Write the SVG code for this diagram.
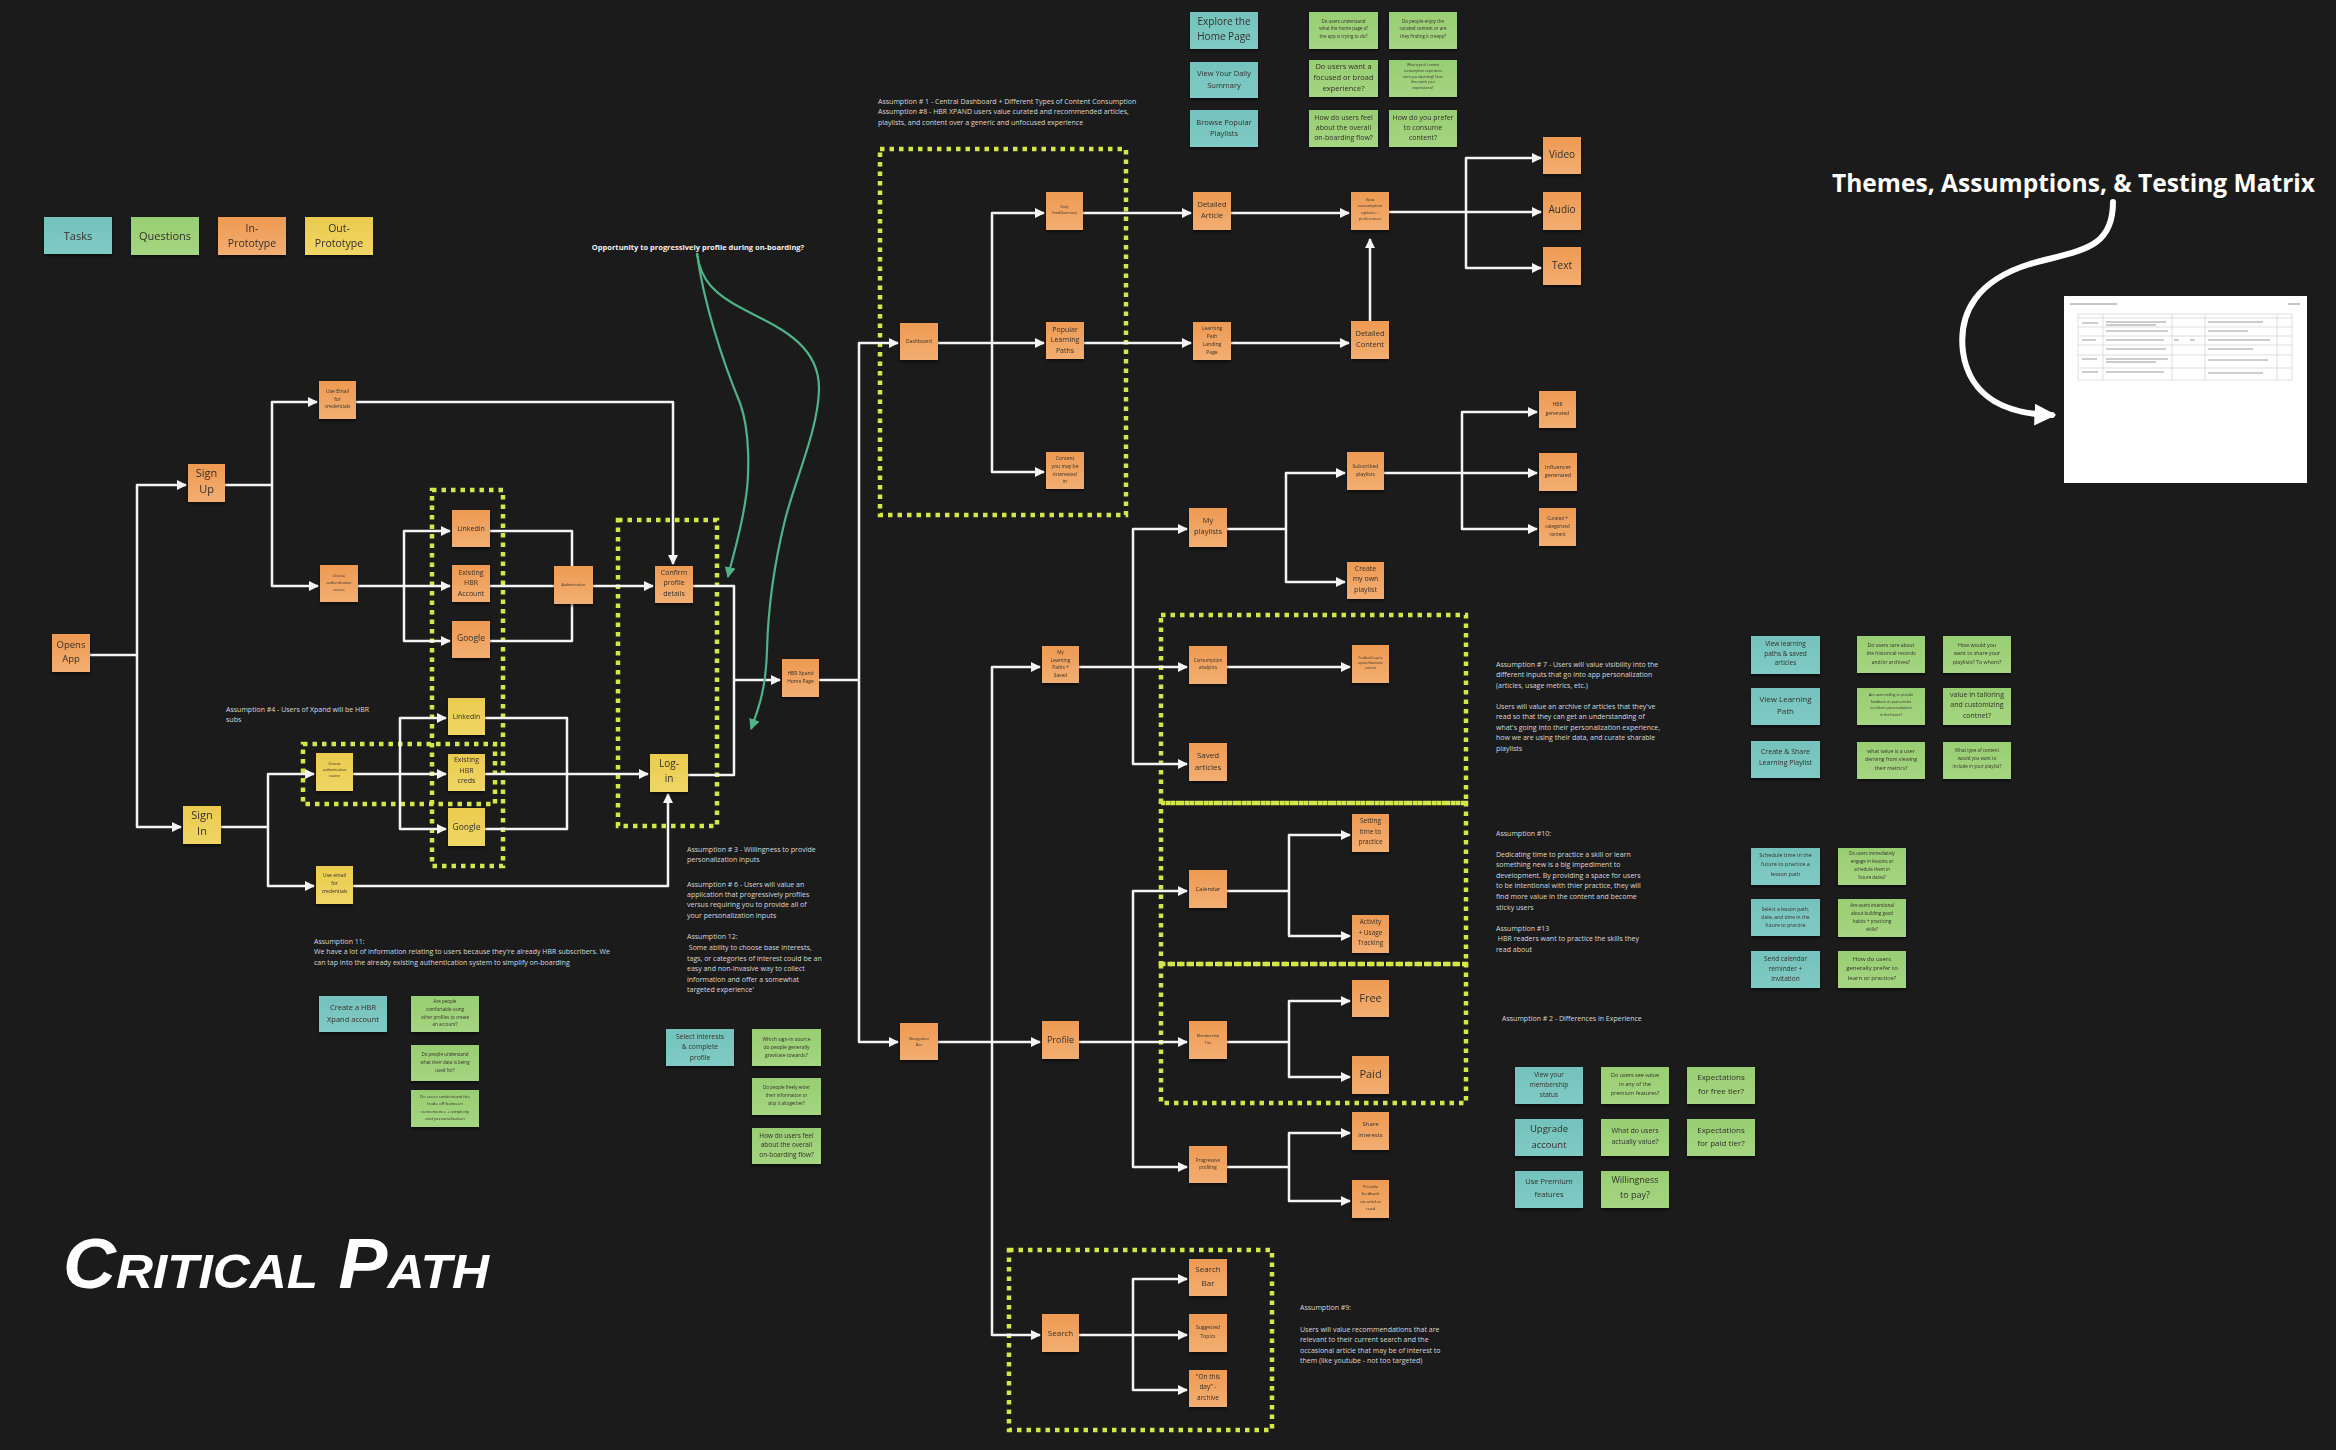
<svg xmlns="http://www.w3.org/2000/svg" width="2336" height="1450" viewBox="0 0 2336 1450">
<defs>
<linearGradient id="gO" x1="0" y1="0" x2="0" y2="1"><stop offset="0" stop-color="#EE9A52"/><stop offset="1" stop-color="#F2AE72"/></linearGradient>
<linearGradient id="gY" x1="0" y1="0" x2="0" y2="1"><stop offset="0" stop-color="#EACB4D"/><stop offset="1" stop-color="#EFD665"/></linearGradient>
<linearGradient id="gT" x1="0" y1="0" x2="0" y2="1"><stop offset="0" stop-color="#74C2BD"/><stop offset="1" stop-color="#80CAC5"/></linearGradient>
<linearGradient id="gG" x1="0" y1="0" x2="0" y2="1"><stop offset="0" stop-color="#98CE72"/><stop offset="1" stop-color="#A5D581"/></linearGradient>
<filter id="sh" x="-20%" y="-20%" width="140%" height="150%"><feDropShadow dx="0" dy="2" stdDeviation="1.5" flood-color="#000" flood-opacity="0.55"/></filter>
<marker id="ah" viewBox="0 0 10 10" refX="9" refY="5" markerWidth="10" markerHeight="10" markerUnits="userSpaceOnUse" orient="auto"><path d="M0,0 L10,5 L0,10 z" fill="#f4f4f4"/></marker>
<marker id="ahg" viewBox="0 0 10 10" refX="9" refY="5" markerWidth="11" markerHeight="11" markerUnits="userSpaceOnUse" orient="auto"><path d="M0,0 L10,5 L0,10 z" fill="#4FB387"/></marker>
<marker id="ahb" viewBox="0 0 10 10" refX="8" refY="5" markerWidth="22" markerHeight="22" markerUnits="userSpaceOnUse" orient="auto"><path d="M0,0 L10,5 L0,10 z" fill="#ffffff"/></marker>
<style>
.n{filter:url(#sh)}
.or{fill:url(#gO)} .ye{fill:url(#gY)} .te{fill:url(#gT)} .gr{fill:url(#gG)}
text.l{font-family:'Open Sans','Liberation Sans',sans-serif;fill:#35302a;text-anchor:middle}
.c{fill:none;stroke:#f4f4f4;stroke-width:2.5;stroke-linejoin:round}
.a{marker-end:url(#ah)}
.g{fill:none;stroke:#4FB387;stroke-width:2.2;marker-end:url(#ahg)}
.db{fill:none;stroke:#D3E74B;stroke-width:4.5;stroke-dasharray:4.5 5}
.an{font-family:'Open Sans','Liberation Sans',sans-serif;font-size:7px;fill:#d9d9d9}
.tl{stroke:#c9c9c9;stroke-width:0.6}
.tx{stroke:#8a8a8a;stroke-width:1}
</style>
</defs>
<rect x="0" y="0" width="2336" height="1450" fill="#1b1b1b"/>

<!-- dotted grouping boxes -->
<g id="groups">
<rect class="db" x="432" y="490" width="71" height="376"/>
<rect class="db" x="618" y="520" width="99" height="306"/>
<rect class="db" x="303" y="744" width="192" height="60"/>
<rect class="db" x="880" y="149" width="246" height="366"/>
<rect class="db" x="1161" y="615" width="305" height="188"/>
<rect class="db" x="1161" y="803" width="305" height="161"/>
<rect class="db" x="1161" y="964" width="305" height="139"/>
<rect class="db" x="1009" y="1250" width="263" height="180"/>
</g>

<!-- connectors -->
<g id="connectors">
<path class="c" d="M90,655 H137"/>
<path class="c a" d="M137,655 V485 H186"/>
<path class="c a" d="M137,655 V827 H181"/>
<path class="c" d="M225,485 H272"/>
<path class="c a" d="M272,485 V402 H317"/>
<path class="c a" d="M272,485 V586 H318"/>
<path class="c a" d="M356,402 H673 V564"/>
<path class="c a" d="M358,586 H450"/>
<path class="c a" d="M404,586 V531 H450"/>
<path class="c a" d="M404,586 V641 H450"/>
<path class="c" d="M490,531 H572 V566"/>
<path class="c" d="M490,641 H572 V604"/>
<path class="c" d="M490,586 H554"/>
<path class="c a" d="M593,586 H653"/>
<path class="c" d="M693,586 H734 V775 H688"/>
<path class="c a" d="M734,680 H780"/>
<path class="c" d="M221,827 H268"/>
<path class="c a" d="M268,827 V774 H314"/>
<path class="c a" d="M268,827 V886 H314"/>
<path class="c a" d="M353,774 H446"/>
<path class="c a" d="M400,774 V718 H446"/>
<path class="c a" d="M400,774 V829 H446"/>
<path class="c" d="M485,718 H567 V829 H485"/>
<path class="c a" d="M485,774 H648"/>
<path class="c a" d="M353,886 H668 V794"/>
<path class="c" d="M819,680 H859"/>
<path class="c a" d="M859,680 V343 H898"/>
<path class="c a" d="M859,680 V1042 H898"/>
<path class="c" d="M938,343 H992"/>
<path class="c a" d="M992,343 V213 H1044"/>
<path class="c a" d="M992,343 H1044"/>
<path class="c a" d="M992,343 V472 H1044"/>
<path class="c a" d="M1083,213 H1191"/>
<path class="c a" d="M1084,343 H1191"/>
<path class="c a" d="M1231,213 H1349"/>
<path class="c a" d="M1231,343 H1349"/>
<path class="c a" d="M1370,321 V239"/>
<path class="c" d="M1389,212 H1466"/>
<path class="c a" d="M1466,212 V158 H1541"/>
<path class="c a" d="M1466,212 H1541"/>
<path class="c a" d="M1466,212 V268 H1541"/>
<path class="c" d="M938,1042 H992"/>
<path class="c a" d="M992,1042 V667 H1040"/>
<path class="c a" d="M992,1042 H1040"/>
<path class="c a" d="M992,1042 V1335 H1040"/>
<path class="c" d="M1079,667 H1133"/>
<path class="c a" d="M1133,667 V529 H1187"/>
<path class="c a" d="M1133,667 H1187"/>
<path class="c a" d="M1133,667 V764 H1187"/>
<path class="c" d="M1227,529 H1286"/>
<path class="c a" d="M1286,529 V473 H1345"/>
<path class="c a" d="M1286,529 V582 H1345"/>
<path class="c" d="M1384,473 H1462"/>
<path class="c a" d="M1462,473 V412 H1537"/>
<path class="c a" d="M1462,473 H1537"/>
<path class="c a" d="M1462,473 V529 H1537"/>
<path class="c a" d="M1227,667 H1350"/>
<path class="c" d="M1079,1042 H1133"/>
<path class="c a" d="M1133,1042 V891 H1187"/>
<path class="c a" d="M1133,1042 H1187"/>
<path class="c a" d="M1133,1042 V1167 H1187"/>
<path class="c" d="M1227,891 H1289"/>
<path class="c a" d="M1289,891 V835 H1350"/>
<path class="c a" d="M1289,891 V936 H1350"/>
<path class="c" d="M1227,1042 H1289"/>
<path class="c a" d="M1289,1042 V1001 H1350"/>
<path class="c a" d="M1289,1042 V1077 H1350"/>
<path class="c" d="M1227,1167 H1289"/>
<path class="c a" d="M1289,1167 V1133 H1350"/>
<path class="c a" d="M1289,1167 V1201 H1350"/>
<path class="c" d="M1079,1335 H1133"/>
<path class="c a" d="M1133,1335 V1279 H1187"/>
<path class="c a" d="M1133,1335 H1187"/>
<path class="c a" d="M1133,1335 V1390 H1187"/>
<path class="g" d="M697,253 C703,300 722,360 740,403 C750,430 750,475 745,503 C740,535 733,555 728,577"/>
<path class="g" d="M697,253 C700,280 715,295 745,310 C780,328 820,345 819,390 C818,430 795,480 785,520 C774,565 768,610 767,650 C766,690 758,710 751,729"/>
<path d="M2113,202 C2113,250 2080,250 2030,264 C1978,280 1958,312 1963,352 C1970,400 2010,414 2052,415" fill="none" stroke="#ffffff" stroke-width="6" stroke-linecap="round" marker-end="url(#ahb)"/>
</g>

<!-- legend -->
<g id="legend-tasks" class="n"><rect class="te" x="44" y="217" width="68" height="37"/><text class="l" x="78" y="239.5" font-size="11">Tasks</text></g>
<g id="legend-questions" class="n"><rect class="gr" x="131" y="217" width="68" height="38"/><text class="l" x="165" y="240" font-size="11">Questions</text></g>
<g id="legend-in" class="n"><rect class="or" x="218" y="217" width="68" height="38"/><text class="l" font-size="10.5"><tspan x="252" y="231.5">In-</tspan><tspan x="252" y="246.5">Prototype</tspan></text></g>
<g id="legend-out" class="n"><rect class="ye" x="305" y="217" width="68" height="38"/><text class="l" font-size="10.5"><tspan x="339" y="231.5">Out-</tspan><tspan x="339" y="246.5">Prototype</tspan></text></g>

<!-- onboarding nodes -->
<g id="opens-app" class="n"><rect class="or" x="52" y="634" width="38" height="38"/><text class="l" font-size="9.5"><tspan x="71" y="647.5">Opens</tspan><tspan x="71" y="662">App</tspan></text></g>
<g id="sign-up" class="n"><rect class="or" x="188" y="464" width="37" height="38"/><text class="l" font-size="11"><tspan x="206.5" y="477">Sign</tspan><tspan x="206.5" y="493">Up</tspan></text></g>
<g id="sign-in" class="n"><rect class="ye" x="183" y="806" width="38" height="38"/><text class="l" font-size="11"><tspan x="202" y="819">Sign</tspan><tspan x="202" y="835">In</tspan></text></g>
<g id="su-email" class="n"><rect class="or" x="319" y="381" width="37" height="38"/><text class="l" font-size="5"><tspan x="337.5" y="393">Use Email</tspan><tspan x="337.5" y="400.5">for</tspan><tspan x="337.5" y="408">credentials</tspan></text></g>
<g id="su-choose" class="n"><rect class="or" x="320" y="565" width="38" height="37"/><text class="l" font-size="3.7"><tspan x="339" y="577.3">Choose</tspan><tspan x="339" y="584">authentication</tspan><tspan x="339" y="590.6">source</tspan></text></g>
<g id="su-linkedin" class="n"><rect class="or" x="452" y="510" width="38" height="37"/><text class="l" x="471" y="531" font-size="7">Linkedin</text></g>
<g id="su-existing" class="n"><rect class="or" x="452" y="565" width="38" height="37"/><text class="l" font-size="7"><tspan x="471" y="574.5">Existing</tspan><tspan x="471" y="585">HBR</tspan><tspan x="471" y="595.5">Account</tspan></text></g>
<g id="su-google" class="n"><rect class="or" x="452" y="621" width="38" height="37"/><text class="l" x="471" y="640.5" font-size="8.5">Google</text></g>
<g id="authentication" class="n"><rect class="or" x="554" y="566" width="39" height="38"/><text class="l" x="573.5" y="585.5" font-size="3.5">Authentication</text></g>
<g id="confirm-profile" class="n"><rect class="or" x="655" y="566" width="38" height="37"/><text class="l" font-size="7"><tspan x="674" y="574.5">Confirm</tspan><tspan x="674" y="585">profile</tspan><tspan x="674" y="595.5">details</tspan></text></g>
<g id="si-choose" class="n"><rect class="ye" x="316" y="753" width="37" height="38"/><text class="l" font-size="3.5"><tspan x="334.5" y="765.3">Choose</tspan><tspan x="334.5" y="771.3">authentication</tspan><tspan x="334.5" y="777.3">source</tspan></text></g>
<g id="si-email" class="n"><rect class="ye" x="316" y="866" width="37" height="38"/><text class="l" font-size="5"><tspan x="334.5" y="877">Use email</tspan><tspan x="334.5" y="885">for</tspan><tspan x="334.5" y="893">credentials</tspan></text></g>
<g id="si-linkedin" class="n"><rect class="ye" x="448" y="698" width="37" height="37"/><text class="l" x="466.5" y="719" font-size="7">Linkedin</text></g>
<g id="si-existing" class="n"><rect class="ye" x="448" y="754" width="37" height="37"/><text class="l" font-size="7"><tspan x="466.5" y="762">Existing</tspan><tspan x="466.5" y="772.5">HBR</tspan><tspan x="466.5" y="783">creds</tspan></text></g>
<g id="si-google" class="n"><rect class="ye" x="448" y="808" width="37" height="38"/><text class="l" x="466.5" y="830" font-size="8.5">Google</text></g>
<g id="log-in" class="n"><rect class="ye" x="650" y="754" width="38" height="38"/><text class="l" font-size="10"><tspan x="669" y="766.5">Log-</tspan><tspan x="669" y="782">in</tspan></text></g>
<g id="home-page" class="n"><rect class="or" x="782" y="659" width="37" height="38"/><text class="l" font-size="5"><tspan x="800.5" y="674.5">HBR Xpand</tspan><tspan x="800.5" y="683">Home Page</tspan></text></g>

<!-- dashboard branch -->
<g id="dashboard" class="n"><rect class="or" x="900" y="323" width="38" height="37"/><text class="l" x="919" y="343" font-size="5">Dashboard</text></g>
<g id="navigation-bar" class="n"><rect class="or" x="900" y="1023" width="38" height="37"/><text class="l" font-size="4"><tspan x="919" y="1040">Navigation</tspan><tspan x="919" y="1045.5">Bar</tspan></text></g>
<g id="daily-feed" class="n"><rect class="or" x="1046" y="192" width="37" height="38"/><text class="l" font-size="3.5"><tspan x="1064.5" y="208">Daily</tspan><tspan x="1064.5" y="213.5">Feed/Summary</tspan></text></g>
<g id="popular-learning-paths" class="n"><rect class="or" x="1046" y="322" width="38" height="37"/><text class="l" font-size="7"><tspan x="1065" y="331.5">Popular</tspan><tspan x="1065" y="342">Learning</tspan><tspan x="1065" y="352.5">Paths</tspan></text></g>
<g id="content-interest" class="n"><rect class="or" x="1046" y="452" width="38" height="37"/><text class="l" font-size="5"><tspan x="1065" y="460">Content</tspan><tspan x="1065" y="468">you may be</tspan><tspan x="1065" y="475.5">interested</tspan><tspan x="1065" y="483">in</tspan></text></g>
<g id="detailed-article" class="n"><rect class="or" x="1193" y="192" width="38" height="38"/><text class="l" font-size="7.5"><tspan x="1212" y="206.6">Detailed</tspan><tspan x="1212" y="217.6">Article</tspan></text></g>
<g id="lp-landing" class="n"><rect class="or" x="1193" y="322" width="38" height="38"/><text class="l" font-size="5"><tspan x="1212" y="330">Learning</tspan><tspan x="1212" y="338">Path</tspan><tspan x="1212" y="346">Landing</tspan><tspan x="1212" y="354">Page</tspan></text></g>
<g id="view-consumption" class="n"><rect class="or" x="1351" y="192" width="38" height="38"/><text class="l" font-size="4"><tspan x="1370" y="200.5">View</tspan><tspan x="1370" y="207">consumption</tspan><tspan x="1370" y="213.5">options +</tspan><tspan x="1370" y="220">preferences</tspan></text></g>
<g id="detailed-content" class="n"><rect class="or" x="1351" y="321" width="38" height="38"/><text class="l" font-size="7.5"><tspan x="1370" y="335.5">Detailed</tspan><tspan x="1370" y="346.5">Content</tspan></text></g>
<g id="video" class="n"><rect class="or" x="1543" y="137" width="38" height="37"/><text class="l" x="1562" y="157.5" font-size="10">Video</text></g>
<g id="audio" class="n"><rect class="or" x="1543" y="192" width="38" height="38"/><text class="l" x="1562" y="212.5" font-size="10">Audio</text></g>
<g id="text-node" class="n"><rect class="or" x="1543" y="247" width="38" height="38"/><text class="l" x="1562" y="268.5" font-size="10">Text</text></g>

<!-- navigation branch -->
<g id="my-learning-paths" class="n"><rect class="or" x="1042" y="646" width="37" height="37"/><text class="l" font-size="4.8"><tspan x="1060.5" y="654">My</tspan><tspan x="1060.5" y="661.7">Learning</tspan><tspan x="1060.5" y="669.4">Paths +</tspan><tspan x="1060.5" y="677">Saved</tspan></text></g>
<g id="my-playlists" class="n"><rect class="or" x="1189" y="508" width="38" height="39"/><text class="l" font-size="7.5"><tspan x="1208" y="522.5">My</tspan><tspan x="1208" y="533.5">playlists</tspan></text></g>
<g id="subscribed-playlists" class="n"><rect class="or" x="1347" y="452" width="37" height="38"/><text class="l" font-size="5"><tspan x="1365.5" y="468">Subscribed</tspan><tspan x="1365.5" y="476">playlists</tspan></text></g>
<g id="create-playlist" class="n"><rect class="or" x="1347" y="562" width="37" height="37"/><text class="l" font-size="7"><tspan x="1365.5" y="570.5">Create</tspan><tspan x="1365.5" y="581">my own</tspan><tspan x="1365.5" y="591.5">playlist</tspan></text></g>
<g id="hbr-generated" class="n"><rect class="or" x="1539" y="391" width="37" height="37"/><text class="l" font-size="5"><tspan x="1557.5" y="406">HBR</tspan><tspan x="1557.5" y="415">generated</tspan></text></g>
<g id="influencer-generated" class="n"><rect class="or" x="1539" y="453" width="38" height="38"/><text class="l" font-size="5.5"><tspan x="1558" y="469">Influencer</tspan><tspan x="1558" y="477">generated</tspan></text></g>
<g id="curated-content" class="n"><rect class="or" x="1539" y="508" width="37" height="38"/><text class="l" font-size="4.5"><tspan x="1557.5" y="519.5">Curated +</tspan><tspan x="1557.5" y="527.5">categorized</tspan><tspan x="1557.5" y="535.5">content</tspan></text></g>
<g id="consumption-analytics" class="n"><rect class="or" x="1189" y="646" width="38" height="38"/><text class="l" font-size="4.5"><tspan x="1208" y="661.5">Consumption</tspan><tspan x="1208" y="668.5">analytics</tspan></text></g>
<g id="feedback-loop" class="n"><rect class="or" x="1352" y="645" width="37" height="38"/><text class="l" font-size="3"><tspan x="1370.5" y="659">Feedback loop to</tspan><tspan x="1370.5" y="664">upvote/downvote</tspan><tspan x="1370.5" y="669">content</tspan></text></g>
<g id="saved-articles" class="n"><rect class="or" x="1189" y="743" width="38" height="38"/><text class="l" font-size="8"><tspan x="1208" y="757.5">Saved</tspan><tspan x="1208" y="769.5">articles</tspan></text></g>
<g id="calendar" class="n"><rect class="or" x="1189" y="870" width="38" height="38"/><text class="l" x="1208" y="891" font-size="6">Calendar</text></g>
<g id="setting-time" class="n"><rect class="or" x="1352" y="814" width="37" height="38"/><text class="l" font-size="6.5"><tspan x="1370.5" y="823">Setting</tspan><tspan x="1370.5" y="833.5">time to</tspan><tspan x="1370.5" y="844">practice</tspan></text></g>
<g id="activity-tracking" class="n"><rect class="or" x="1352" y="915" width="37" height="38"/><text class="l" font-size="6.5"><tspan x="1370.5" y="924">Activity</tspan><tspan x="1370.5" y="934.5">+ Usage</tspan><tspan x="1370.5" y="945">Tracking</tspan></text></g>
<g id="profile" class="n"><rect class="or" x="1042" y="1021" width="37" height="38"/><text class="l" x="1060.5" y="1043" font-size="9">Profile</text></g>
<g id="membership-tier" class="n"><rect class="or" x="1189" y="1021" width="38" height="38"/><text class="l" font-size="3.8"><tspan x="1208" y="1036.5">Membership</tspan><tspan x="1208" y="1043.5">Tier</tspan></text></g>
<g id="free" class="n"><rect class="or" x="1352" y="980" width="37" height="37"/><text class="l" x="1370.5" y="1002" font-size="11">Free</text></g>
<g id="paid" class="n"><rect class="or" x="1352" y="1056" width="37" height="38"/><text class="l" x="1370.5" y="1078" font-size="11">Paid</text></g>
<g id="progressive-profiling" class="n"><rect class="or" x="1189" y="1146" width="38" height="37"/><text class="l" font-size="4.5"><tspan x="1208" y="1161.5">Progressive</tspan><tspan x="1208" y="1168.5">profiling</tspan></text></g>
<g id="share-interests" class="n"><rect class="or" x="1352" y="1112" width="37" height="38"/><text class="l" font-size="6"><tspan x="1370.5" y="1126">Share</tspan><tspan x="1370.5" y="1137">interests</tspan></text></g>
<g id="provide-feedback" class="n"><rect class="or" x="1352" y="1180" width="37" height="38"/><text class="l" font-size="4.3"><tspan x="1370.5" y="1187.5">Provide</tspan><tspan x="1370.5" y="1195">feedback</tspan><tspan x="1370.5" y="1202.5">on articles</tspan><tspan x="1370.5" y="1210">read</tspan></text></g>
<g id="search" class="n"><rect class="or" x="1042" y="1314" width="37" height="38"/><text class="l" x="1060.5" y="1336" font-size="8">Search</text></g>
<g id="search-bar" class="n"><rect class="or" x="1189" y="1259" width="38" height="37"/><text class="l" font-size="8"><tspan x="1208" y="1272">Search</tspan><tspan x="1208" y="1285.5">Bar</tspan></text></g>
<g id="suggested-topics" class="n"><rect class="or" x="1189" y="1314" width="38" height="38"/><text class="l" font-size="5"><tspan x="1208" y="1329">Suggested</tspan><tspan x="1208" y="1337.5">Topics</tspan></text></g>
<g id="on-this-day" class="n"><rect class="or" x="1189" y="1370" width="38" height="37"/><text class="l" font-size="6.5"><tspan x="1208" y="1378.5">"On this</tspan><tspan x="1208" y="1389">day" -</tspan><tspan x="1208" y="1399.5">archive</tspan></text></g>

<!-- top tasks and questions -->
<g id="t-explore" class="n"><rect class="te" x="1190" y="12" width="68" height="37"/><text class="l" font-size="10"><tspan x="1224" y="24.5">Explore the</tspan><tspan x="1224" y="39.5">Home Page</tspan></text></g>
<g id="t-daily" class="n"><rect class="te" x="1190" y="62" width="68" height="36"/><text class="l" font-size="7.5"><tspan x="1224" y="75.5">View Your Daily</tspan><tspan x="1224" y="87.5">Summary</tspan></text></g>
<g id="t-browse" class="n"><rect class="te" x="1190" y="110" width="68" height="37"/><text class="l" font-size="7.5"><tspan x="1224" y="124.5">Browse Popular</tspan><tspan x="1224" y="135.5">Playlists</tspan></text></g>
<g id="q-homepage" class="n"><rect class="gr" x="1309" y="12" width="69" height="37"/><text class="l" font-size="4.5"><tspan x="1343.5" y="22.5">Do users understand</tspan><tspan x="1343.5" y="30.3">what the home page of</tspan><tspan x="1343.5" y="38.2">the app is trying to do?</tspan></text></g>
<g id="q-creepy" class="n"><rect class="gr" x="1389" y="12" width="68" height="37"/><text class="l" font-size="4.5"><tspan x="1423" y="22.5">Do people enjoy the</tspan><tspan x="1423" y="30.3">curated content or are</tspan><tspan x="1423" y="38.2">they finding it creepy?</tspan></text></g>
<g id="q-focused" class="n"><rect class="gr" x="1309" y="60" width="69" height="37"/><text class="l" font-size="7.5"><tspan x="1343.5" y="68.6">Do users want a</tspan><tspan x="1343.5" y="79.6">focused or broad</tspan><tspan x="1343.5" y="90.6">experience?</tspan></text></g>
<g id="q-expecting" class="n"><rect class="gr" x="1389" y="60" width="68" height="37"/><text class="l" font-size="3.3"><tspan x="1423" y="66">What type of content</tspan><tspan x="1423" y="71.8">consumption experience</tspan><tspan x="1423" y="77.6">were you expecting? Does</tspan><tspan x="1423" y="83.4">this match your</tspan><tspan x="1423" y="89.2">expectations?</tspan></text></g>
<g id="q-onboarding-top" class="n"><rect class="gr" x="1309" y="110" width="69" height="37"/><text class="l" font-size="7"><tspan x="1343.5" y="119.5">How do users feel</tspan><tspan x="1343.5" y="129.5">about the overall</tspan><tspan x="1343.5" y="139.5">on-boarding flow?</tspan></text></g>
<g id="q-prefer" class="n"><rect class="gr" x="1389" y="110" width="68" height="37"/><text class="l" font-size="7"><tspan x="1423" y="119.5">How do you prefer</tspan><tspan x="1423" y="129.5">to consume</tspan><tspan x="1423" y="139.5">content?</tspan></text></g>

<!-- right tasks and questions -->
<g id="t-view-lp-saved" class="n"><rect class="te" x="1751" y="636" width="69" height="38"/><text class="l" font-size="6.5"><tspan x="1785.5" y="645.8">View learning</tspan><tspan x="1785.5" y="655.5">paths &amp; saved</tspan><tspan x="1785.5" y="665.3">articles</tspan></text></g>
<g id="t-view-lp" class="n"><rect class="te" x="1751" y="688" width="69" height="37"/><text class="l" font-size="8"><tspan x="1785.5" y="702">View Learning</tspan><tspan x="1785.5" y="713.5">Path</tspan></text></g>
<g id="t-create-share" class="n"><rect class="te" x="1751" y="741" width="69" height="37"/><text class="l" font-size="7"><tspan x="1785.5" y="753.5">Create &amp; Share</tspan><tspan x="1785.5" y="764.5">Learning Playlist</tspan></text></g>
<g id="q-historical" class="n"><rect class="gr" x="1857" y="636" width="68" height="37"/><text class="l" font-size="5"><tspan x="1891" y="646.5">Do users care about</tspan><tspan x="1891" y="655">the historical records</tspan><tspan x="1891" y="663.5">and/or archives?</tspan></text></g>
<g id="q-share" class="n"><rect class="gr" x="1943" y="636" width="68" height="37"/><text class="l" font-size="5.3"><tspan x="1977" y="646.5">How would you</tspan><tspan x="1977" y="655">want to share your</tspan><tspan x="1977" y="663.5">playlists? To whom?</tspan></text></g>
<g id="q-willing-feedback" class="n"><rect class="gr" x="1857" y="688" width="68" height="37"/><text class="l" font-size="3.5"><tspan x="1891" y="696.3">Are users willing to provide</tspan><tspan x="1891" y="702.8">feedback on past articles</tspan><tspan x="1891" y="709.3">to inform personalization</tspan><tspan x="1891" y="715.8">in the future?</tspan></text></g>
<g id="q-tailoring" class="n"><rect class="gr" x="1943" y="688" width="68" height="37"/><text class="l" font-size="7"><tspan x="1977" y="696.5">value in tailoring</tspan><tspan x="1977" y="707">and customizing</tspan><tspan x="1977" y="717.5">contnet?</tspan></text></g>
<g id="q-metrics" class="n"><rect class="gr" x="1857" y="742" width="68" height="37"/><text class="l" font-size="5.2"><tspan x="1891" y="752.5">what value is a user</tspan><tspan x="1891" y="761">deriving from viewing</tspan><tspan x="1891" y="769.5">their metrics?</tspan></text></g>
<g id="q-playlist-content" class="n"><rect class="gr" x="1943" y="742" width="68" height="37"/><text class="l" font-size="4.5"><tspan x="1977" y="752">What type of content</tspan><tspan x="1977" y="760">would you want to</tspan><tspan x="1977" y="768">include in your playlist?</tspan></text></g>
<g id="t-schedule" class="n"><rect class="te" x="1751" y="848" width="69" height="37"/><text class="l" font-size="5.5"><tspan x="1785.5" y="857.3">Schedule time in the</tspan><tspan x="1785.5" y="866.4">future to practice a</tspan><tspan x="1785.5" y="875.5">lesson path</tspan></text></g>
<g id="t-select-lesson" class="n"><rect class="te" x="1751" y="899" width="69" height="37"/><text class="l" font-size="5"><tspan x="1785.5" y="910.7">Select a lesson path,</tspan><tspan x="1785.5" y="918.7">date, and time in the</tspan><tspan x="1785.5" y="926.7">future to practice</tspan></text></g>
<g id="t-send-calendar" class="n"><rect class="te" x="1751" y="951" width="69" height="37"/><text class="l" font-size="6.5"><tspan x="1785.5" y="960.5">Send calendar</tspan><tspan x="1785.5" y="970.5">reminder +</tspan><tspan x="1785.5" y="981">invitation</tspan></text></g>
<g id="q-immediately" class="n"><rect class="gr" x="1838" y="848" width="68" height="37"/><text class="l" font-size="4.5"><tspan x="1872" y="854.5">Do users immediately</tspan><tspan x="1872" y="862.5">engage in lessons or</tspan><tspan x="1872" y="870.5">schedule them in</tspan><tspan x="1872" y="878.5">future dates?</tspan></text></g>
<g id="q-intentional" class="n"><rect class="gr" x="1838" y="899" width="68" height="38"/><text class="l" font-size="4.5"><tspan x="1872" y="906.5">Are users intentional</tspan><tspan x="1872" y="914.5">about building good</tspan><tspan x="1872" y="922.5">habits + practicing</tspan><tspan x="1872" y="930.5">skills?</tspan></text></g>
<g id="q-learn-practice" class="n"><rect class="gr" x="1838" y="951" width="68" height="37"/><text class="l" font-size="6"><tspan x="1872" y="961">How do users</tspan><tspan x="1872" y="970">generally prefer to</tspan><tspan x="1872" y="979.5">learn or practice?</tspan></text></g>

<!-- membership tasks and questions -->
<g id="t-membership-status" class="n"><rect class="te" x="1515" y="1067" width="68" height="37"/><text class="l" font-size="6.5"><tspan x="1549" y="1076.5">View your</tspan><tspan x="1549" y="1086.5">membership</tspan><tspan x="1549" y="1097">status</tspan></text></g>
<g id="t-upgrade" class="n"><rect class="te" x="1515" y="1119" width="68" height="37"/><text class="l" font-size="9.5"><tspan x="1549" y="1131.5">Upgrade</tspan><tspan x="1549" y="1147.5">account</tspan></text></g>
<g id="t-premium" class="n"><rect class="te" x="1515" y="1171" width="68" height="37"/><text class="l" font-size="7.5"><tspan x="1549" y="1183.5">Use Premium</tspan><tspan x="1549" y="1197">features</tspan></text></g>
<g id="q-premium-value" class="n"><rect class="gr" x="1601" y="1067" width="68" height="37"/><text class="l" font-size="5.5"><tspan x="1635" y="1077">Do users see value</tspan><tspan x="1635" y="1086">in any of the</tspan><tspan x="1635" y="1095">premium features?</tspan></text></g>
<g id="q-actually-value" class="n"><rect class="gr" x="1601" y="1119" width="68" height="37"/><text class="l" font-size="7"><tspan x="1635" y="1132.5">What do users</tspan><tspan x="1635" y="1144">actually value?</tspan></text></g>
<g id="q-willingness" class="n"><rect class="gr" x="1601" y="1171" width="68" height="37"/><text class="l" font-size="9"><tspan x="1635" y="1183">Willingness</tspan><tspan x="1635" y="1198">to pay?</tspan></text></g>
<g id="q-free-tier" class="n"><rect class="gr" x="1687" y="1067" width="68" height="37"/><text class="l" font-size="8"><tspan x="1721" y="1080">Expectations</tspan><tspan x="1721" y="1094">for free tier?</tspan></text></g>
<g id="q-paid-tier" class="n"><rect class="gr" x="1687" y="1119" width="68" height="37"/><text class="l" font-size="8"><tspan x="1721" y="1132.5">Expectations</tspan><tspan x="1721" y="1145.5">for paid tier?</tspan></text></g>

<!-- bottom-left tasks and questions -->
<g id="t-create-account" class="n"><rect class="te" x="319" y="996" width="68" height="36"/><text class="l" font-size="7.5"><tspan x="353" y="1009.5">Create a HBR</tspan><tspan x="353" y="1021.5">Xpand account</tspan></text></g>
<g id="q-comfortable" class="n"><rect class="gr" x="411" y="996" width="68" height="36"/><text class="l" font-size="4.5"><tspan x="445" y="1003">Are people</tspan><tspan x="445" y="1010.8">comfortable using</tspan><tspan x="445" y="1018.6">other profiles to create</tspan><tspan x="445" y="1026.4">an account?</tspan></text></g>
<g id="q-data" class="n"><rect class="gr" x="411" y="1045" width="68" height="36"/><text class="l" font-size="4.5"><tspan x="445" y="1055.5">Do people understand</tspan><tspan x="445" y="1063.5">what their data is being</tspan><tspan x="445" y="1071.5">used for?</tspan></text></g>
<g id="q-tradeoff" class="n"><rect class="gr" x="411" y="1090" width="68" height="37"/><text class="l" font-size="4.3"><tspan x="445" y="1098">Do users understand the</tspan><tspan x="445" y="1105.3">trade off between</tspan><tspan x="445" y="1112.6">convenience + simplicity</tspan><tspan x="445" y="1120">and personalization</tspan></text></g>
<g id="t-select-interests" class="n"><rect class="te" x="666" y="1029" width="68" height="37"/><text class="l" font-size="6.8"><tspan x="700" y="1038.5">Select interests</tspan><tspan x="700" y="1049">&amp; complete</tspan><tspan x="700" y="1059.5">profile</tspan></text></g>
<g id="q-signin-source" class="n"><rect class="gr" x="752" y="1029" width="69" height="37"/><text class="l" font-size="5"><tspan x="786.5" y="1040.7">Which sign-in source</tspan><tspan x="786.5" y="1048.7">do people generally</tspan><tspan x="786.5" y="1056.7">gravitate towards?</tspan></text></g>
<g id="q-freely" class="n"><rect class="gr" x="752" y="1078" width="69" height="37"/><text class="l" font-size="4.5"><tspan x="786.5" y="1088.5">Do people freely enter</tspan><tspan x="786.5" y="1096.5">their information or</tspan><tspan x="786.5" y="1104.5">skip it altogether?</tspan></text></g>
<g id="q-onboarding-low" class="n"><rect class="gr" x="752" y="1128" width="69" height="36"/><text class="l" font-size="6.5"><tspan x="786.5" y="1137.5">How do users feel</tspan><tspan x="786.5" y="1147">about the overall</tspan><tspan x="786.5" y="1156.5">on-boarding flow?</tspan></text></g>

<!-- annotations -->
<g id="annotations">
<text x="698" y="249.5" font-family="'Open Sans','Liberation Sans',sans-serif" font-size="7.5" font-weight="bold" fill="#f2f2f2" text-anchor="middle">Opportunity to progressively profile during on-boarding?</text>
<text class="an"><tspan x="226" y="711.5">Assumption #4 - Users of Xpand will be HBR</tspan><tspan x="226" y="722">subs</tspan></text>
<text class="an"><tspan x="687" y="851.5">Assumption # 3 - Willingness to provide</tspan><tspan x="687" y="861.5">personalization inputs</tspan><tspan x="687" y="886.5">Assumption # 6 - Users will value an</tspan><tspan x="687" y="896.5">application that progressively profiles</tspan><tspan x="687" y="907">versus requiring you to provide all of</tspan><tspan x="687" y="917.5">your personalization inputs</tspan><tspan x="687" y="938.5">Assumption 12:</tspan><tspan x="687" y="949.5"> Some ability to choose base interests,</tspan><tspan x="687" y="960.5">tags, or categories of interest could be an</tspan><tspan x="687" y="970.5">easy and non-invasive way to collect</tspan><tspan x="687" y="981.5">information and offer a somewhat</tspan><tspan x="687" y="991.5">targeted experience'</tspan></text>
<text class="an"><tspan x="314" y="943.5">Assumption 11:</tspan><tspan x="314" y="953.5">We have a lot of information relating to users because they're already HBR subscribers. We</tspan><tspan x="314" y="964.5">can tap into the already existing authentication system to simplify on-boarding</tspan></text>
<text class="an" font-size="7.2"><tspan x="878" y="103.5">Assumption # 1 - Central Dashboard + Different Types of Content Consumption</tspan><tspan x="878" y="113.5">Assumption #8 - HBR XPAND users value curated and recommended articles,</tspan><tspan x="878" y="124.5">playlists, and content over a generic and unfocused experience</tspan></text>
<text class="an"><tspan x="1496" y="666.5">Assumption # 7 - Users will value visibility into the</tspan><tspan x="1496" y="676.5">different inputs that go into app personalization</tspan><tspan x="1496" y="687.5">(articles, usage metrics, etc.)</tspan><tspan x="1496" y="708.5">Users will value an archive of articles that they've</tspan><tspan x="1496" y="718.5">read so that they can get an understanding of</tspan><tspan x="1496" y="729.5">what's going into their personalization experience,</tspan><tspan x="1496" y="739.5">how we are using their data, and curate sharable</tspan><tspan x="1496" y="750.5">playlists</tspan></text>
<text class="an"><tspan x="1496" y="835.5">Assumption #10:</tspan><tspan x="1496" y="856.5">Dedicating time to practice a skill or learn</tspan><tspan x="1496" y="866.5">something new is a big impediment to</tspan><tspan x="1496" y="877.5">development. By providing a space for users</tspan><tspan x="1496" y="887.5">to be intentional with thier practice, they will</tspan><tspan x="1496" y="898.5">find more value in the content and become</tspan><tspan x="1496" y="909.5">sticky users</tspan><tspan x="1496" y="930.5">Assumption #13</tspan><tspan x="1496" y="940.5"> HBR readers want to practice the skills they</tspan><tspan x="1496" y="951.5">read about</tspan></text>
<text class="an" x="1502" y="1020.5">Assumption # 2 - Differences in Experience</text>
<text class="an"><tspan x="1300" y="1309.5">Assumption #9:</tspan><tspan x="1300" y="1331.5">Users will value recommendations that are</tspan><tspan x="1300" y="1341.5">relevant to their current search and the</tspan><tspan x="1300" y="1352.5">occasional article that may be of interest to</tspan><tspan x="1300" y="1362.5">them (like youtube - not too targeted)</tspan></text>
<text x="63" y="1288" font-family="'Liberation Sans',sans-serif" font-weight="bold" font-style="italic" font-variant="small-caps" font-size="70" textLength="426" lengthAdjust="spacingAndGlyphs" fill="#ffffff">Critical Path</text>
<text x="1832" y="192" font-family="'Open Sans','Liberation Sans',sans-serif" font-weight="bold" font-size="25" textLength="483" lengthAdjust="spacingAndGlyphs" fill="#ffffff">Themes, Assumptions, &amp; Testing Matrix</text>
</g>

<!-- testing matrix thumbnail -->
<g id="testing-matrix">
<rect x="2064" y="296" width="243" height="187" fill="#ffffff"/>
<line class="tx" x1="2070" y1="304" x2="2117" y2="304"/>
<line class="tx" x1="2288" y1="304" x2="2300" y2="304"/>
<line class="tl" x1="2078" y1="314" x2="2292" y2="314"/>
<line class="tl" x1="2078" y1="318" x2="2292" y2="318"/>
<line class="tl" x1="2078" y1="327" x2="2292" y2="327"/>
<line class="tl" x1="2078" y1="336" x2="2292" y2="336"/>
<line class="tl" x1="2078" y1="345" x2="2292" y2="345"/>
<line class="tl" x1="2078" y1="355" x2="2292" y2="355"/>
<line class="tl" x1="2078" y1="368" x2="2292" y2="368"/>
<line class="tl" x1="2078" y1="380" x2="2292" y2="380"/>
<line class="tl" x1="2078" y1="314" x2="2078" y2="380"/>
<line class="tl" x1="2103" y1="314" x2="2103" y2="380"/>
<line class="tl" x1="2172" y1="314" x2="2172" y2="380"/>
<line class="tl" x1="2205" y1="314" x2="2205" y2="380"/>
<line class="tl" x1="2277" y1="314" x2="2277" y2="380"/>
<line class="tl" x1="2292" y1="314" x2="2292" y2="380"/>
<path d="M2106,322h60M2106,325h50M2208,322h55M2106,331h62M2208,331h40M2106,340h58M2208,340h62M2106,349h60M2208,349h45M2106,359h62M2106,362h50M2208,360h60M2106,372h58M2208,373h55M2082,323h16M2082,340h14M2082,359h15M2082,372h16M2174,340h5M2190,340h5" stroke="#9a9a9a" stroke-width="1"/>
</g>
</svg>
